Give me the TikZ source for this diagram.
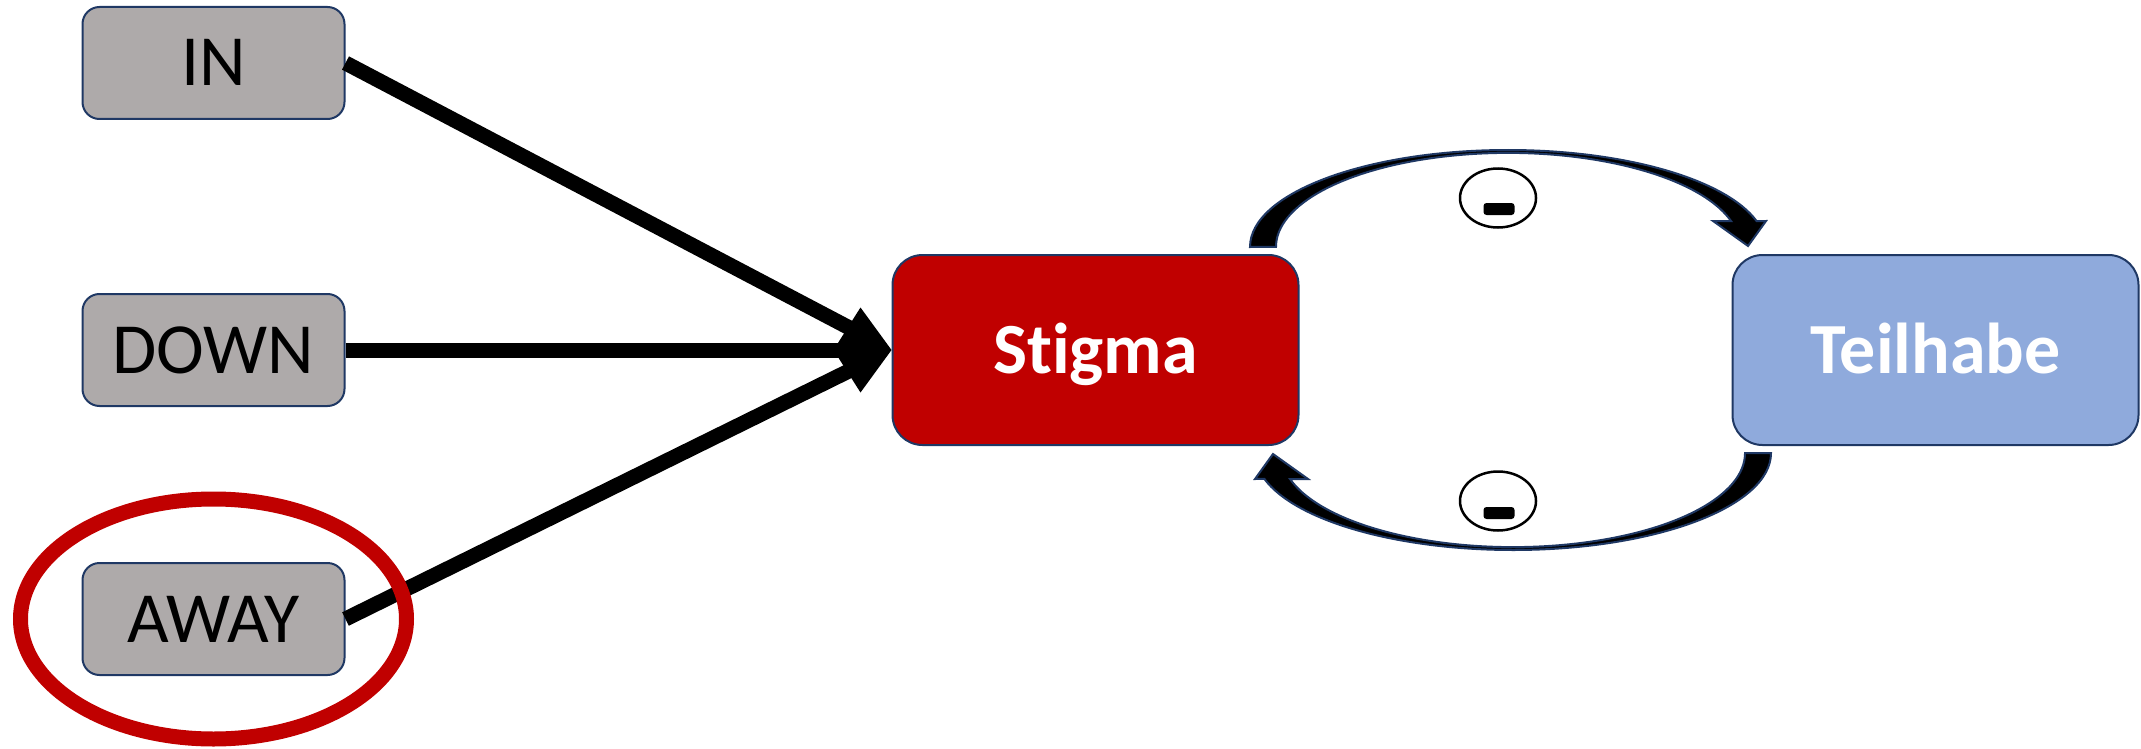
\documentclass[tikz,border=0pt]{standalone}
\usepackage{fontspec}
\setmainfont{Carlito}[Ligatures=NoCommon]
\usepackage{tikz}
\usetikzlibrary{calc,positioning}
\usetikzlibrary{shapes}
\usetikzlibrary{arrows.meta}
\usepackage{xcolor}
\definecolor{boxgray}{HTML}{AEAAAA}
\definecolor{stigred}{HTML}{C00000}
\definecolor{teilblue}{HTML}{8FAADC}
\definecolor{navy}{HTML}{1F3864}

\begin{document}
\begin{tikzpicture}[x=1pt, y=-1pt,
	small/.style = {draw=navy, line width=2pt, fill=boxgray, rounded corners=17pt, minimum width=262pt, minimum height=112pt, inner sep=0pt, text height=46pt, text depth=0pt, font=\fontsize{72}{86}\selectfont},
	big/.style = {draw=navy, line width=2pt, rounded corners=30pt, minimum width=406pt, minimum height=190pt, inner sep=0pt, text=white, text height=46pt, text depth=0pt, font=\fontsize{72}{86}\selectfont\bfseries},
	link/.style = {line width=15pt, shorten >=46pt},
	loop/.style = {draw=navy, line width=2pt, fill=black},
	neg/.style = {draw, ellipse, line width=2.5pt, minimum width=76pt, minimum height=59pt, inner sep=0pt},
	bar/.style = {fill=black, rounded corners=3pt, minimum width=31pt, minimum height=12pt, inner sep=0pt},
	ring/.style = {draw=stigred, line width=15pt}]
			\useasboundingbox (0,0) rectangle (2141,749);
			\node[small] (in) at (213.5,63) {IN};
			\node[small] (down) [below=173pt of in] {DOWN};
			\node[small] (away) [below=155pt of down] {AWAY};
			\node[big, fill=stigred] (stigma) [right=546pt of down] {Stigma};
			\node[big, fill=teilblue] (teilhabe) [right=432pt of stigma] {Teilhabe};
			\draw[link] (in.east) -- (stigma.west);
			\draw[link] (away.east) -- (stigma.west);
			\draw[line width=15pt, -{Kite[length=58pt, width=85pt, inset=27pt, line width=0pt]}] (down.east) -- (stigma.west);
			\foreach \r in {0,180}
				\draw[loop, rotate around={\r:(1510.5,350)}] (1250,247) arc[start angle=180, end angle=15.5, x radius=258pt, y radius=97pt] -- (1766,221) -- (1748,246) -- (1713,221) -- (1731,221) arc[start angle=16, end angle=180, x radius=232pt, y radius=94pt] -- cycle;
			\node[neg] (negtop) at (1498,198) {};
			\node[bar] (bartop) at (1499,209) {};
			\node[neg] (negbot) at (1498,501) {};
			\node[bar] (barbot) at (1499,513) {};
			\draw[ring] (away.center) ellipse [x radius=193pt, y radius=120pt];
		\end{tikzpicture}
\end{document}
